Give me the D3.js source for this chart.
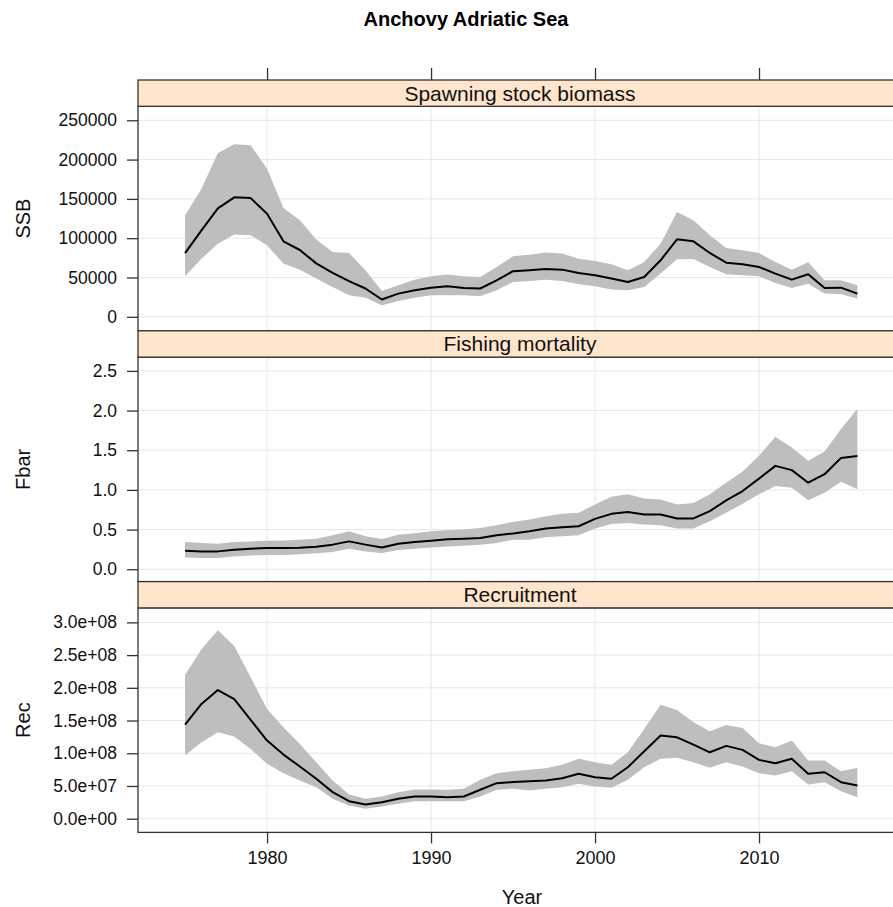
<!DOCTYPE html>
<html>
<head>
<meta charset="utf-8">
<script src="https://cdn.jsdelivr.net/npm/d3@7"></script>
<style>
  body { margin: 0; background: #fff; }
  text { font-family: "Liberation Sans", Arial, sans-serif; }
</style>
</head>
<body>
<div id="chart"></div>
<script>
const years = [1975, 1976, 1977, 1978, 1979, 1980, 1981, 1982, 1983, 1984, 1985, 1986, 1987, 1988,
    1989, 1990, 1991, 1992, 1993, 1994, 1995, 1996, 1997, 1998, 1999, 2000, 2001, 2002,
    2003, 2004, 2005, 2006, 2007, 2008, 2009, 2010, 2011, 2012, 2013, 2014, 2015, 2016];

const ssb = [81000, 110000, 138000, 152000, 151000, 131000, 96000, 85000, 68000, 56000, 45500, 36000,
    22000, 29500, 33700, 37000, 38800, 36700, 36000, 46400, 58000, 59200, 60800, 60000, 55700, 52800,
    48600, 44300, 50700, 71900, 98600, 96000, 81200, 68900, 66800, 63400, 55000, 47300, 54100, 36700,
    37100, 29500];
const ssb_hi = [129000, 163000, 208400, 219500, 218200, 188500, 138400, 122800, 98200, 82400, 81200,
    59200, 32800, 40100, 47300, 51500, 53700, 51500, 50700, 63400, 77000, 79100, 81700, 80400, 74000,
    71000, 66800, 59200, 69700, 93100, 133300, 122800, 103700, 87500, 84600, 81200, 69700, 60000, 69300,
    46400, 46400, 40100];
const ssb_lo = [51500, 74000, 93100, 104600, 103700, 91000, 67700, 60000, 48600, 37900, 27300, 24400,
    14600, 20100, 24400, 27300, 27300, 27300, 26100, 33700, 44300, 45500, 47300, 45500, 41300, 38800,
    34600, 33700, 37900, 55000, 73200, 73500, 63400, 54100, 52800, 51500, 43000, 36700, 42200, 29500,
    28600, 23200];

const fbar = [0.233, 0.225, 0.225, 0.246, 0.258, 0.267, 0.267, 0.27, 0.284, 0.31, 0.351, 0.31, 0.275,
    0.322, 0.343, 0.36, 0.377, 0.385, 0.393, 0.428, 0.45, 0.478, 0.513, 0.529, 0.542, 0.635, 0.698, 0.72,
    0.69, 0.69, 0.64, 0.64, 0.732, 0.868, 0.986, 1.142, 1.303, 1.249, 1.091, 1.198, 1.401, 1.426];
const fbar_hi = [0.343, 0.33, 0.32, 0.343, 0.35, 0.36, 0.362, 0.373, 0.385, 0.428, 0.478, 0.415, 0.38,
    0.436, 0.453, 0.478, 0.49, 0.5, 0.52, 0.555, 0.596, 0.627, 0.669, 0.698, 0.711, 0.817, 0.914, 0.944,
    0.893, 0.88, 0.817, 0.834, 0.944, 1.091, 1.231, 1.43, 1.671, 1.536, 1.367, 1.485, 1.769, 2.023];
const fbar_lo = [0.148, 0.14, 0.14, 0.16, 0.174, 0.18, 0.18, 0.19, 0.2, 0.216, 0.258, 0.225, 0.203,
    0.241, 0.258, 0.275, 0.288, 0.297, 0.31, 0.33, 0.373, 0.373, 0.402, 0.415, 0.428, 0.513, 0.571, 0.584,
    0.563, 0.555, 0.513, 0.513, 0.605, 0.711, 0.825, 0.944, 1.05, 1.028, 0.868, 0.964, 1.104, 1.008];

const rec = [1.437e8, 1.753e8, 1.966e8, 1.829e8, 1.509e8, 1.194e8, 0.98e8, 0.797e8, 0.61e8, 0.406e8,
    0.268e8, 0.218e8, 0.253e8, 0.305e8, 0.34e8, 0.34e8, 0.329e8, 0.34e8, 0.442e8, 0.543e8, 0.56e8,
    0.573e8, 0.584e8, 0.619e8, 0.686e8, 0.634e8, 0.61e8, 0.787e8, 1.03e8, 1.27e8, 1.244e8, 1.133e8,
    1.015e8, 1.113e8, 1.052e8, 0.899e8, 0.848e8, 0.915e8, 0.686e8, 0.71e8, 0.558e8, 0.508e8];
const rec_hi = [2.195e8, 2.59e8, 2.88e8, 2.64e8, 2.16e8, 1.677e8, 1.396e8, 1.143e8, 0.863e8, 0.584e8,
    0.37e8, 0.305e8, 0.34e8, 0.406e8, 0.447e8, 0.447e8, 0.442e8, 0.457e8, 0.594e8, 0.695e8, 0.726e8,
    0.747e8, 0.771e8, 0.823e8, 0.915e8, 0.863e8, 0.823e8, 1.015e8, 1.372e8, 1.742e8, 1.662e8, 1.473e8,
    1.336e8, 1.433e8, 1.387e8, 1.152e8, 1.091e8, 1.194e8, 0.889e8, 0.889e8, 0.726e8, 0.777e8];
const rec_lo = [0.965e8, 1.168e8, 1.32e8, 1.255e8, 1.067e8, 0.838e8, 0.695e8, 0.584e8, 0.482e8, 0.305e8,
    0.203e8, 0.152e8, 0.188e8, 0.229e8, 0.268e8, 0.268e8, 0.268e8, 0.268e8, 0.34e8, 0.442e8, 0.457e8,
    0.431e8, 0.457e8, 0.482e8, 0.534e8, 0.492e8, 0.473e8, 0.594e8, 0.787e8, 0.915e8, 0.93e8, 0.863e8,
    0.777e8, 0.863e8, 0.797e8, 0.695e8, 0.66e8, 0.726e8, 0.523e8, 0.558e8, 0.421e8, 0.329e8];

const strip_names = ["Spawning stock biomass", "Fishing mortality", "Recruitment"];
const y_labels = ["SSB", "Fbar", "Rec"];
const x_ticks = [1980, 1990, 2000, 2010];
const ssb_ticks = [0, 50000, 100000, 150000, 200000, 250000];
const fbar_ticks = [0, 0.5, 1.0, 1.5, 2.0, 2.5];
const rec_ticks = [0, 0.5e8, 1.0e8, 1.5e8, 2.0e8, 2.5e8, 3.0e8];

function drawChart() {
    const width = 893, height = 907;
    const left = 138, right = 902;
    const top = 80, strip_h = 26.3, block_h = 250.8;

    // R style scientific labels: 3.0e+08
    let sci = function (v) {
        let s = d3.format(".1e")(v);
        return s.replace(/e([+-])(\d)$/, "e$10$2");
    }

    const panels = [
        {mid: ssb, hi: ssb_hi, lo: ssb_lo, dom: [-17800, 267800], ticks: ssb_ticks, fmt: d3.format("d")},
        {mid: fbar, hi: fbar_hi, lo: fbar_lo, dom: [-0.156, 2.674], ticks: fbar_ticks, fmt: d3.format(".1f")},
        {mid: rec, hi: rec_hi, lo: rec_lo, dom: [-0.209e8, 3.221e8], ticks: rec_ticks, fmt: sci}
    ];

    let svg = d3.select("#chart")
        .append("svg")
        .attr("width", width)
        .attr("height", height);

    svg.append("defs").append("clipPath")
        .attr("id", "clip")
        .append("rect")
        .attr("x", left).attr("y", 0)
        .attr("width", right - left).attr("height", height);

    let x = d3.scaleLinear()
        .domain([1972.13, 2018.72])
        .range([left, right]);

    svg.append("text")
        .attr("x", 466)
        .attr("y", 26)
        .attr("text-anchor", "middle")
        .style("font-size", "20px")
        .style("font-weight", "bold")
        .text("Anchovy Adriatic Sea");

    panels.forEach(function (p, i) {
        const y0 = top + i * block_h;
        const py0 = y0 + strip_h, py1 = y0 + block_h;

        let y = d3.scaleLinear()
            .domain(p.dom)
            .range([py1, py0]);

        let g = svg.append("g");
        let inner = g.append("g").attr("clip-path", "url(#clip)");

        // grid
        inner.selectAll(".vgrid")
            .data(x_ticks)
            .join("line")
            .attr("x1", d => x(d)).attr("x2", d => x(d))
            .attr("y1", py0).attr("y2", py1)
            .style("stroke", "#e6e6e6");
        inner.selectAll(".hgrid")
            .data(p.ticks)
            .join("line")
            .attr("x1", left).attr("x2", right)
            .attr("y1", d => y(d)).attr("y2", d => y(d))
            .style("stroke", "#e6e6e6");

        let rows = years.map((yr, k) => ({yr: yr, mid: p.mid[k], hi: p.hi[k], lo: p.lo[k]}));

        inner.append("path")
            .datum(rows)
            .attr("d", d3.area().x(d => x(d.yr)).y0(d => y(d.lo)).y1(d => y(d.hi)))
            .attr("fill", "#bebebe");

        inner.append("path")
            .datum(rows)
            .attr("d", d3.line().x(d => x(d.yr)).y(d => y(d.mid)))
            .attr("fill", "none")
            .style("stroke", "black")
            .style("stroke-width", 2)
            .style("stroke-linejoin", "round");

        // panel box
        g.append("rect")
            .attr("x", left).attr("y", py0)
            .attr("width", right - left).attr("height", py1 - py0)
            .attr("fill", "none")
            .style("stroke", "#333")
            .style("stroke-width", 1.3);

        // strip
        g.append("rect")
            .attr("x", left).attr("y", y0)
            .attr("width", right - left).attr("height", strip_h)
            .attr("fill", "#ffe5cc")
            .style("stroke", "#333")
            .style("stroke-width", 1.3);
        g.append("text")
            .attr("x", (left + right) / 2)
            .attr("y", y0 + strip_h / 2)
            .attr("dy", "0.35em")
            .attr("text-anchor", "middle")
            .style("font-size", "21px")
            .style("fill", "#111")
            .text(strip_names[i]);

        // y axis
        let yaxis = d3.axisLeft(y)
            .tickValues(p.ticks)
            .tickFormat(p.fmt)
            .tickSize(11)
            .tickPadding(10);
        let ya = g.append("g")
            .attr("transform", "translate(" + left + ",0)")
            .call(yaxis);
        ya.select(".domain").remove();
        ya.selectAll("line").style("stroke", "#333").style("stroke-width", 1.3);
        ya.selectAll("text")
            .style("font-size", "17.5px")
            .style("font-family", "'Liberation Sans', Arial, sans-serif")
            .style("fill", "#111");

        g.append("text")
            .attr("transform", "translate(30," + ((py0 + py1) / 2) + ") rotate(-90)")
            .attr("text-anchor", "middle")
            .style("font-size", "20px")
            .style("fill", "#111")
            .text(y_labels[i]);

        if (i === 0) {
            let xt = d3.axisTop(x).tickValues(x_ticks).tickFormat("").tickSize(12);
            let xa = g.append("g").attr("transform", "translate(0," + y0 + ")").call(xt);
            xa.select(".domain").remove();
            xa.selectAll("line").style("stroke", "#333").style("stroke-width", 1.3);
        }
        if (i === panels.length - 1) {
            let xb = d3.axisBottom(x).tickValues(x_ticks).tickFormat(d3.format("d")).tickSize(11).tickPadding(8);
            let xa = g.append("g").attr("transform", "translate(0," + py1 + ")").call(xb);
            xa.select(".domain").remove();
            xa.selectAll("line").style("stroke", "#333").style("stroke-width", 1.3);
            xa.selectAll("text")
                .style("font-size", "18px")
                .style("font-family", "'Liberation Sans', Arial, sans-serif")
                .style("fill", "#111");
        }
    });

    svg.append("text")
        .attr("x", 522)
        .attr("y", 904)
        .attr("text-anchor", "middle")
        .style("font-size", "20px")
        .style("fill", "#111")
        .text("Year");
}
drawChart();
</script>
</body>
</html>
